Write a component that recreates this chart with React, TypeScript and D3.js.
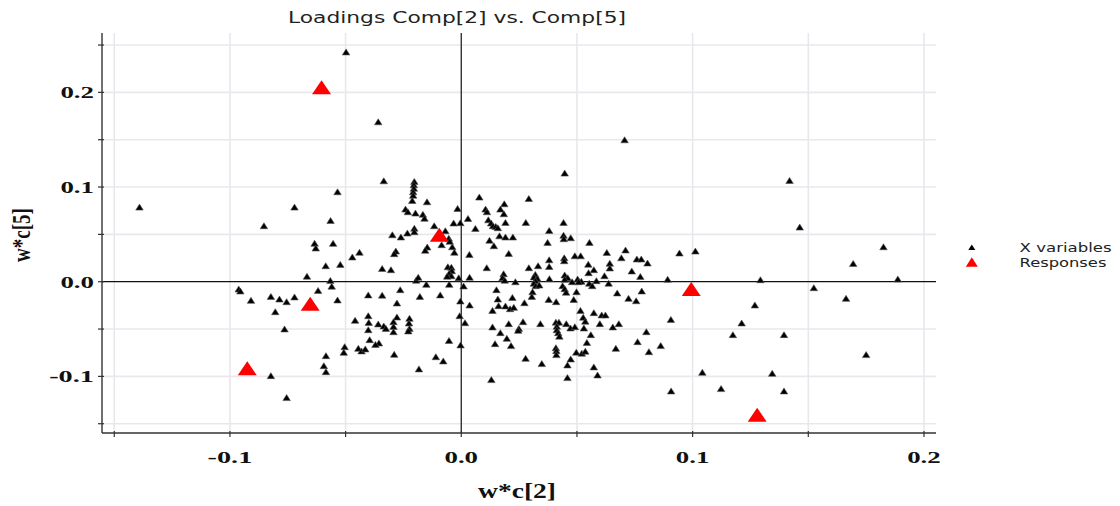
import React from 'react';
import * as d3 from 'd3';

const title = 'Loadings Comp[2] vs. Comp[5]';
const xAxisTitle = 'w*c[2]';
const yAxisTitle = 'w*c[5]';
const legendLabels = ['X variables', 'Responses'];
const xTickLabels = [-0.1, 0.0, 0.1, 0.2];
const yTickLabels = [-0.1, 0.0, 0.1, 0.2];
const xGridValues = [-0.15, -0.1, -0.05, 0.05, 0.1, 0.15, 0.2];
const yGridValues = [-0.15, -0.1, -0.05, 0.05, 0.1, 0.15, 0.2, 0.25];
const xTickValues = [-0.15, -0.1, -0.05, 0, 0.05, 0.1, 0.15, 0.2];
const yTickValues = [-0.15, -0.1, -0.05, 0, 0.05, 0.1, 0.15, 0.2, 0.25];

// X variables: [w*c[2], w*c[5]]
const xVariables: [number, number][] = [
  [-0.0498, 0.2427], [-0.0359, 0.1689], [0.0706, 0.1499], [0.0447, 0.1147], [0.1419, 0.1069],
  [-0.0335, 0.1066], [-0.0203, 0.1059], [-0.0205, 0.1024], [-0.0205, 0.0987], [-0.0208, 0.095],
  [-0.0208, 0.0913], [-0.0535, 0.095], [0.0078, 0.0894], [0.0292, 0.0879], [-0.0212, 0.0858],
  [-0.0148, 0.0844], [0.0186, 0.0823], [-0.1391, 0.0788], [-0.0721, 0.0788], [-0.0241, 0.0767],
  [-0.0231, 0.0739], [-0.0016, 0.0774], [0.0105, 0.0767], [0.0111, 0.0739], [0.0169, 0.0767],
  [0.0184, 0.0718], [-0.0198, 0.0725], [-0.0166, 0.0712], [-0.0159, 0.067], [0.0029, 0.0668],
  [-0.0565, 0.0647], [-0.0853, 0.0591], [-0.0033, 0.062], [-0.0004, 0.0623], [0.0117, 0.0654],
  [0.0129, 0.062], [0.0137, 0.0591], [0.0149, 0.0584], [0.0158, 0.057], [0.0191, 0.0626],
  [0.0279, 0.0626], [0.0442, 0.0626], [-0.0117, 0.0591], [0.0061, 0.0563], [0.038, 0.0541],
  [0.1463, 0.0577], [-0.0203, 0.0565], [-0.0203, 0.0528], [-0.0298, 0.0496], [-0.0261, 0.0472],
  [-0.0233, 0.0514], [-0.0069, 0.0538], [-0.0054, 0.0459], [-0.005, 0.0427], [0.0165, 0.0485],
  [0.0191, 0.0472], [0.0223, 0.0472], [0.0442, 0.0491], [0.0443, 0.0454], [0.0473, 0.0464],
  [0.0122, 0.0438], [0.0141, 0.038], [0.0373, 0.0415], [0.0554, 0.0415], [-0.0634, 0.0406],
  [-0.0629, 0.0356], [-0.0554, 0.0405], [-0.0085, 0.0391], [-0.0039, 0.0369], [-0.003, 0.0311],
  [-0.0147, 0.0366], [-0.0156, 0.0332], [-0.0283, 0.0324], [-0.029, 0.0296], [-0.0471, 0.0261],
  [-0.044, 0.0311], [0.0035, 0.0288], [0.0205, 0.0299], [0.0629, 0.0309], [0.071, 0.0335],
  [0.0692, 0.0253], [0.0943, 0.0303], [0.1012, 0.0324], [0.1825, 0.0369], [0.1694, 0.0193],
  [0.1887, 0.0028], [0.1293, 0.0021], [0.038, 0.0232], [0.038, 0.0161], [0.0445, 0.0253],
  [0.0445, 0.0222], [0.0491, 0.0274], [0.0516, 0.0274], [0.0549, 0.0185], [0.0573, 0.0127],
  [0.055, 0.0095], [0.0642, 0.0195], [0.0642, 0.0145], [0.0759, 0.024], [0.0778, 0.024],
  [0.0805, 0.0197], [0.0332, 0.0169], [0.0292, 0.0148], [0.011, 0.0148], [-0.0586, 0.0169],
  [-0.0523, 0.0183], [-0.0342, 0.014], [-0.0304, 0.0127], [-0.0058, 0.0158], [-0.0043, 0.0153],
  [-0.0041, 0.0116], [-0.0052, 0.009], [-0.0043, 0.0063], [-0.0061, 0.0058], [-0.0195, 0.0016],
  [-0.0186, 0.0047], [-0.0011, 0.0042], [0.0036, 0.0047], [-0.0667, 0.0058], [-0.0566, 0.0014],
  [-0.056, -0.0047], [0.0183, 0.0084], [0.0178, 0.0042], [0.0188, 0.0016], [0.032, 0.0077],
  [0.0314, 0.005], [0.0329, 0.0035], [0.032, 0.0011], [0.0314, -0.0016], [0.0322, -0.0042],
  [0.0337, -0.0035], [0.0308, -0.0106], [0.0305, -0.0155], [0.0381, 0.0032], [0.0447, 0.0071],
  [0.046, 0.0042], [0.0447, 0.0026], [0.0503, 0.0028], [0.0519, 0.0005], [0.0234, 0.0],
  [0.0438, -0.0042], [0.0447, -0.0074], [0.0453, -0.0111], [0.0479, 0.0], [0.0507, 0.0],
  [0.0553, -0.0016], [0.0566, -0.0042], [0.0498, -0.0106], [0.0584, 0.0011], [0.0619, 0.0063],
  [0.0637, -0.0016], [0.0737, 0.0113], [0.0774, 0.0056], [0.0892, 0.0026], [0.001, -0.0045],
  [-0.0151, -0.0028], [-0.0052, -0.0028], [-0.0264, -0.0084], [-0.0402, -0.014], [-0.0342, -0.0142],
  [-0.0179, -0.0155], [-0.0091, -0.014], [-0.0535, -0.0193], [-0.0278, -0.0225], [-0.0004, -0.0204],
  [0.0036, -0.0246], [0.0152, -0.0084], [0.0158, -0.0183], [0.0221, -0.0166], [0.0161, -0.0253],
  [0.0191, -0.0256], [0.0211, -0.0285], [0.0227, -0.0271], [0.0135, -0.0303], [0.0273, -0.0222],
  [0.0378, -0.0187], [0.041, -0.0211], [0.0486, -0.0187], [0.0515, -0.0303], [0.0573, -0.0327],
  [0.0527, -0.0375], [0.0536, -0.0417], [0.0599, -0.0443], [0.0607, -0.0351], [0.0623, -0.0351],
  [0.0674, -0.0119], [0.078, -0.0098], [0.0723, -0.0176], [0.0756, -0.0201], [-0.0007, -0.0359],
  [0.0016, -0.0433], [0.0135, -0.0478], [0.0205, -0.0443], [0.0267, -0.0422], [0.0249, -0.0493],
  [0.0246, -0.0514], [0.0342, -0.0443], [0.0409, -0.0427], [0.0422, -0.0427], [0.0413, -0.047],
  [0.0413, -0.0507], [0.0419, -0.0538], [0.0424, -0.0575], [0.0454, -0.0443], [0.0472, -0.0489],
  [0.0491, -0.0475], [0.053, -0.0489], [0.056, -0.0559], [0.0655, -0.0478], [0.0681, -0.0443],
  [0.08, -0.0528], [0.0906, -0.0398], [0.0169, -0.0538], [0.0197, -0.0598], [0.0146, -0.0654],
  [0.0215, -0.0675], [0.0543, -0.0641], [0.0762, -0.0633], [0.0862, -0.0675], [0.0668, -0.0704],
  [0.0811, -0.0739], [0.0409, -0.0697], [0.0411, -0.0728], [0.0411, -0.077], [0.0497, -0.0744],
  [0.0521, -0.0755], [0.0536, -0.0734], [0.0473, -0.0816], [0.0459, -0.0879], [0.0278, -0.0809],
  [0.0348, -0.0865], [0.0573, -0.09], [0.0589, -0.0985], [0.0459, -0.1013], [0.013, -0.1034],
  [-0.0003, -0.0668], [-0.0053, -0.062], [-0.011, -0.0792], [-0.0078, -0.0837], [-0.0183, -0.0921],
  [-0.029, -0.0767], [-0.0396, -0.0612], [-0.0356, -0.0647], [-0.0371, -0.0662], [-0.0504, -0.0686],
  [-0.0508, -0.0746], [-0.0445, -0.0704], [-0.0431, -0.0731], [-0.0415, -0.071], [-0.0459, -0.0408],
  [-0.0402, -0.0359], [-0.04, -0.043], [-0.0402, -0.0507], [-0.0359, -0.0446], [-0.0335, -0.0468],
  [-0.0326, -0.0493], [-0.0278, -0.0373], [-0.0293, -0.0422], [-0.0293, -0.0472], [-0.0293, -0.0528],
  [-0.0224, -0.0387], [-0.0226, -0.0436], [-0.0224, -0.0493], [-0.0229, -0.052], [-0.0585, -0.0781],
  [-0.0594, -0.0887], [-0.0585, -0.095], [-0.0823, -0.0992], [-0.0755, -0.1224], [-0.0764, -0.0499],
  [-0.0804, -0.0317], [-0.0962, -0.0077], [-0.0955, -0.0098], [-0.0909, -0.0197], [-0.0823, -0.0155],
  [-0.0786, -0.0183], [-0.0755, -0.0211], [-0.0721, -0.0161], [-0.0619, -0.0092],
  [0.1524, -0.0063], [0.1663, -0.0176], [0.1269, -0.0246], [0.1212, -0.0436], [0.1174, -0.0559],
  [0.1395, -0.0559], [0.175, -0.077], [0.1042, -0.0957], [0.1344, -0.0968], [0.1123, -0.1129],
  [0.1395, -0.1154], [0.0907, -0.1154],
];

// Responses: [w*c[2], w*c[5]]
const responses: [number, number][] = [
  [-0.0604, 0.2055], [-0.0095, 0.0496], [-0.0653, -0.0232], [-0.0925, -0.0915],
  [0.0994, -0.0077], [0.1279, -0.1404],
];

const W = 1120;
const H = 506;
const plot = { left: 102, right: 936, top: 33, bottom: 433 };

const x = d3.scaleLinear().domain([-0.1553, 0.2052]).range([plot.left, plot.right]);
const y = d3.scaleLinear().domain([-0.1598, 0.2627]).range([plot.bottom, plot.top]);

function tri(cx: number, cy: number, w: number, h: number) {
  const p = d3.path();
  p.moveTo(cx, cy - h / 2);
  p.lineTo(cx + w / 2, cy + h / 2);
  p.lineTo(cx - w / 2, cy + h / 2);
  p.closePath();
  return p.toString();
}

const fmt = (v: number) => v.toFixed(1);
const serif = '"Liberation Serif", "Times New Roman", serif';
const sans = '"DejaVu Sans", Verdana, sans-serif';

export default function App() {
  return (
    <div style={{ position: 'fixed', left: 0, top: 0, width: W, height: H, background: '#fff' }}>
      <svg width={W} height={H} viewBox={`0 0 ${W} ${H}`} style={{ display: 'block' }}>
        <rect x={0} y={0} width={W} height={H} fill="#fff" />
        {/* grid */}
        {yGridValues.map((v) => (
          <line key={'gy' + v} x1={plot.left + 2} x2={plot.right} y1={y(v)} y2={y(v)} stroke="#e9e7ec" strokeWidth={1.6} />
        ))}
        {xGridValues.map((v) => (
          <line key={'gx' + v} x1={x(v)} x2={x(v)} y1={plot.top} y2={plot.bottom} stroke="#e9e7ec" strokeWidth={1.6} />
        ))}
        {/* zero lines */}
        <line x1={plot.left} x2={plot.right} y1={y(0)} y2={y(0)} stroke="#111" strokeWidth={1.2} />
        <line x1={x(0)} x2={x(0)} y1={plot.top} y2={plot.bottom} stroke="#333" strokeWidth={1.4} />
        {/* axes */}
        <line x1={plot.left} x2={plot.left} y1={plot.top} y2={plot.bottom} stroke="#333" strokeWidth={1.4} />
        <line x1={plot.left} x2={plot.right} y1={plot.bottom} y2={plot.bottom} stroke="#333" strokeWidth={1.4} />
        {yTickValues.map((v) => (
          <line key={'ty' + v} x1={plot.left - 4} x2={plot.left + 2} y1={y(v)} y2={y(v)} stroke="#333" strokeWidth={1.2} />
        ))}
        {xTickValues.map((v) => (
          <line key={'tx' + v} x1={x(v)} x2={x(v)} y1={plot.bottom - 2} y2={plot.bottom + 4} stroke="#333" strokeWidth={1.2} />
        ))}
        {yTickLabels.map((v) => (
          <text key={'ly' + v} x={94} y={y(v) + 6} textAnchor="end" fontFamily={serif} fontWeight="bold" fontSize={17.5}
            textLength={fmt(v).length * 11.2} lengthAdjust="spacingAndGlyphs" fill="#111">{fmt(v)}</text>
        ))}
        {xTickLabels.map((v) => (
          <text key={'lx' + v} x={x(v) - fmt(v).length * 5.6} y={463} fontFamily={serif} fontWeight="bold" fontSize={17.5}
            textLength={fmt(v).length * 11.2} lengthAdjust="spacingAndGlyphs" fill="#111">{fmt(v)}</text>
        ))}
        {/* axis titles */}
        <text x={478} y={498} fontFamily={serif} fontWeight="bold" fontSize={20} textLength={78}
          lengthAdjust="spacingAndGlyphs" fill="#111">{xAxisTitle}</text>
        <text transform={`translate(29.5,235) scale(1.3,1) rotate(-90)`} textAnchor="middle" fontFamily={serif} fontWeight="bold"
          fontSize={19} fill="#111">{yAxisTitle}</text>
        {/* title */}
        <text x={288} y={22.5} fontFamily={sans} fontSize={16.5} textLength={338} lengthAdjust="spacingAndGlyphs" fill="#222">{title}</text>
        {/* points */}
        <g>
          {xVariables.map((d, i) => (
            <path key={'p' + i} d={tri(x(d[0]), y(d[1]), 7.5, 6)} fill="#000" stroke="#555" strokeWidth={0.6} />
          ))}
        </g>
        <g>
          {responses.map((d, i) => (
            <path key={'r' + i} d={tri(x(d[0]), y(d[1]), 19, 14)} fill="#ff0000" />
          ))}
        </g>
        {/* legend */}
        <path d={tri(971.8, 247.3, 7, 5.5)} fill="#000" />
        <path d={tri(971.8, 262, 12, 9.5)} fill="#ff0000" />
        <text x={1019.6} y={252.3} fontFamily={sans} fontSize={12.5} textLength={92} lengthAdjust="spacingAndGlyphs" fill="#222">{legendLabels[0]}</text>
        <text x={1019.6} y={266.7} fontFamily={sans} fontSize={12.5} textLength={86.8} lengthAdjust="spacingAndGlyphs" fill="#222">{legendLabels[1]}</text>
      </svg>
    </div>
  );
}
